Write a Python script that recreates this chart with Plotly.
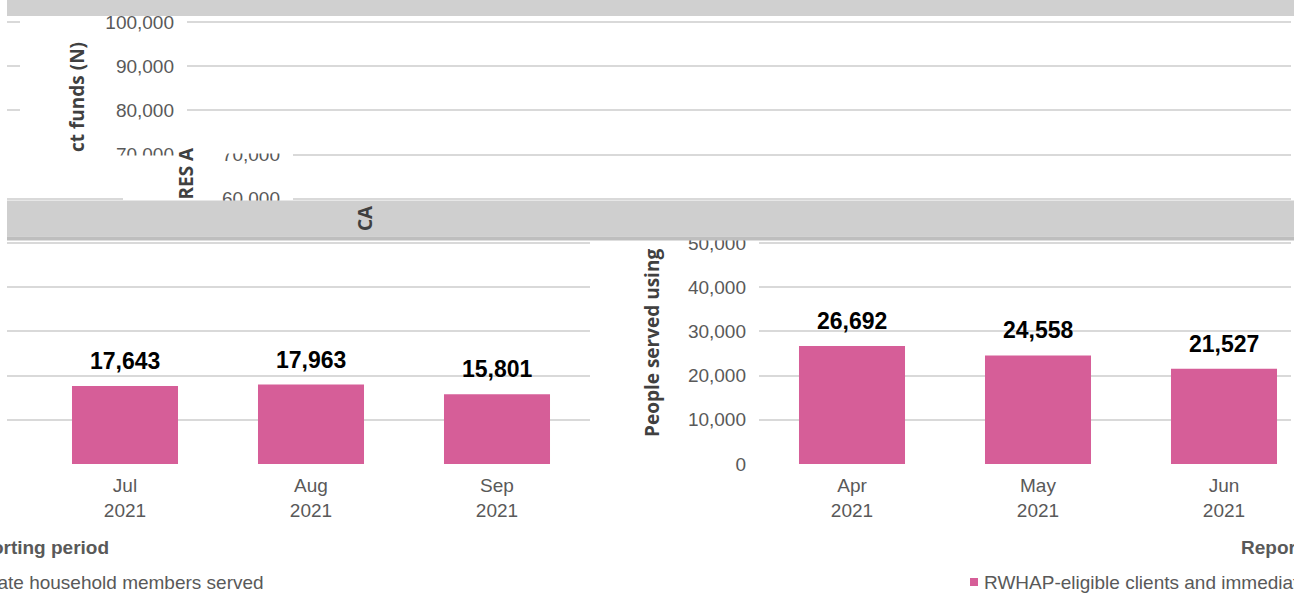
import plotly.graph_objects as go

# ---------------- data ----------------
months = ["Apr", "May", "Jun", "Jul", "Aug", "Sep"]
years = ["2021", "2021", "2021", "2021", "2021", "2021"]
people_served = [26692, 24558, 21527, 17643, 17963, 15801]
y_tick_values = [0, 10000, 20000, 30000, 40000, 50000, 60000, 70000, 80000, 90000, 100000]
series_name = "RWHAP-eligible clients and immediate household members served"
y_title = "People served using CARES Act funds (N)"
x_title = "Reporting period"

categories = [f"{m}<br>{y}" for m, y in zip(months, years)]

# ---------------- styling / layout helpers ----------------
W, H = 1294, 594
PX_PER_10K = 44.2      # vertical pixels per 10,000
ZERO_ROW = 464         # pixel row of the value 0
CAT_W = 186            # pixel width of one category
CHART_LEFT = 759       # plot-area left edge of the (unshifted) chart
BAR_COLOR = "#D65E98"
GRID = "#D9D9D9"
TICK = "#595959"
TITLE = "#404040"
FONT = "Liberation Sans"
TFONT = "Open Sans"


def px(c):
    return c / W


def py(r):
    return 1 - r / H


def val(r):
    return (ZERO_ROW - r) / PX_PER_10K * 10000


def x_window(shift, left, right):
    origin = CHART_LEFT + shift
    return [-0.5 + (left - origin) / CAT_W, -0.5 + (right - origin) / CAT_W]


# panels: (suffix, shift, x-left px, x-right px, top row, bottom row, show y labels, show x labels)
panels = [
    ("", -1285, 7, 590, 241, 464, False, True),
    ("2", 0, 759, 1291, 241, 464, True, True),
    ("3", -572, 187, 1291, 17, 155, True, False),
    ("4", -466, 293, 1291, 153, 201, True, False),
    ("5", -1285, 7, 20, 17, 155, False, False),
    ("6", -1285, 7, 123, 190, 201, False, False),
]

fig = go.Figure()
layout = dict(
    width=W, height=H,
    margin=dict(l=0, r=0, t=0, b=0, pad=0, autoexpand=False),
    paper_bgcolor="white", plot_bgcolor="white",
    showlegend=False,
    bargap=0.43,
)

for suf, shift, xl, xr, top, bot, show_y, show_x in panels:
    fig.add_trace(go.Bar(
        x=categories, y=people_served, name=series_name,
        marker=dict(color=BAR_COLOR, line=dict(width=0)),
        xaxis="x" + suf, yaxis="y" + suf, hoverinfo="skip",
    ))
    layout["xaxis" + suf] = dict(
        domain=[px(xl), px(xr)], anchor="y" + suf,
        type="category", categoryorder="array", categoryarray=categories,
        range=x_window(shift, xl, xr), automargin=False,
        showgrid=False, zeroline=False, showline=False, ticks="",
        showticklabels=show_x,
        tickfont=dict(family=FONT, size=19, color=TICK),
        ticklabelstandoff=8,
    )
    layout["yaxis" + suf] = dict(
        domain=[py(bot), py(top)], anchor="x" + suf,
        range=[val(bot), val(top)], automargin=False,
        tickmode="array", tickvals=y_tick_values, tickformat=",",
        showgrid=True, gridcolor=GRID, gridwidth=1.5,
        zeroline=False, showline=False, ticks="",
        showticklabels=show_y,
        tickfont=dict(family=FONT, size=19, color=TICK),
        ticklabelstandoff=12,
    )

fig.update_layout(**layout)

# ---------------- value labels ----------------
annotations = []
for suf in ["", "2"]:
    for c, v in zip(categories, people_served):
        annotations.append(dict(
            x=c, y=v, xref="x" + suf, yref="y" + suf,
            text=f"{v:,}", showarrow=False,
            xanchor="center", yanchor="bottom", yshift=10,
            font=dict(family=FONT, size=23, color="black", weight="bold"),
        ))

# ---------------- axis-title pieces ----------------
tfont = dict(family=TFONT, size=19, color=TITLE, weight="bold")
annotations += [
    dict(x=px(652), y=py(439), xref="paper", yref="paper", text=y_title[:19],
         textangle=-90, showarrow=False, xanchor="center", yanchor="bottom", font=tfont),
    dict(x=px(365), y=py(233), xref="paper", yref="paper", text=y_title[20:22],
         textangle=-90, showarrow=False, xanchor="center", yanchor="bottom", font=tfont),
    dict(x=px(185), y=py(202), xref="paper", yref="paper", text=y_title[22:27],
         textangle=-90, showarrow=False, xanchor="center", yanchor="bottom", font=tfont),
    dict(x=px(77), y=py(154), xref="paper", yref="paper", text=y_title[27:],
         textangle=-90, showarrow=False, xanchor="center", yanchor="bottom", font=tfont),
]

xfont = dict(family=FONT, size=19, color=TICK, weight="bold")
annotations += [
    dict(x=px(CHART_LEFT + 3 * CAT_W), y=py(547), xref="paper", yref="paper",
         text=x_title, showarrow=False, xanchor="center", yanchor="middle", font=xfont),
    dict(x=px(CHART_LEFT - 1285 + 3 * CAT_W), y=py(547), xref="paper", yref="paper",
         text=x_title, showarrow=False, xanchor="center", yanchor="middle", font=xfont),
]

lfont = dict(family=FONT, size=19, color=TICK)
annotations += [
    dict(x=px(982), y=py(582), xref="paper", yref="paper", text=series_name,
         showarrow=False, xanchor="left", yanchor="middle", font=lfont),
    dict(x=px(266), y=py(582), xref="paper", yref="paper", text=series_name,
         showarrow=False, xanchor="right", yanchor="middle", font=lfont),
]

fig.update_layout(annotations=annotations)

# ---------------- bands, masks, legend swatch ----------------
def rect(x0, x1, r0, r1, color):
    return dict(type="rect", xref="paper", yref="paper",
                x0=px(x0), x1=px(x1), y0=py(r1), y1=py(r0),
                fillcolor=color, line=dict(width=0), layer="above")

shapes = [
    rect(7, W, 0, 16, "#D0D0D0"),
    rect(7, W, 200.5, 236.5, "#CFCFCF"),
    rect(7, W, 236.5, 240.5, "#BEBEBE"),
    rect(95, 182, 155.5, 166, "white"),
    rect(200, 290, 140, 153.6, "white"),
    rect(970, 978, 578, 586, BAR_COLOR),
]
fig.update_layout(shapes=shapes)

fig.write_html(
    "out.html",
    config={"displayModeBar": False},
    post_script="document.body.style.margin='0px';document.body.style.overflow='hidden';",
)
